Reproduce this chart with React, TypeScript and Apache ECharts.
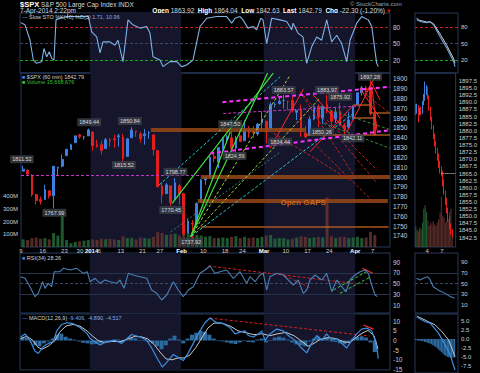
import React, { useEffect, useRef } from 'react';
import * as echarts from 'echarts';

const FONT = "'Liberation Sans', Arial, Helvetica, sans-serif";
const LBL = '#c8cdd4';

// ---------- main panel: daily OHLC (Dec 9, 2013 .. Apr 7, 2014) ----------
const dayOpen = [1806,1807,1802,1782,1777,1777,1786,1781,1809,1811,1822,1828,1835,1843,1841,1842,1846,1833,1833,1829,1838,1839,1841,1841,1821,1840,1847,1844,1842,1845,1843,1827,1791,1783,1791,1777,1791,1783,1743,1753,1752,1774,1797,1800,1821,1815,1828,1839,1840,1829,1842,1837,1848,1846,1844,1855,1857,1849,1874,1875,1878,1877,1878,1866,1869,1845,1843,1859,1872,1860,1874,1867,1859,1867,1853,1851,1859,1874,1886,1891,1891,1864];
const dayHigh = [1811.5,1808,1803,1783,1780,1792,1786,1811,1810,1823,1829,1834,1842,1844,1842,1849.4,1846,1838,1837,1840,1840,1843,1844,1844,1839,1850.8,1847,1846,1849,1847,1843,1827,1795,1794,1791,1798.8,1793,1784,1758,1756,1774,1798,1800,1823,1826,1830,1841,1843,1847.5,1842,1847,1858,1852,1852,1855,1867,1857,1876,1876,1882,1883.6,1878,1882,1868,1874,1852,1862,1873,1874,1873,1884,1867,1871,1876,1855,1866,1873,1886,1893,1893,1897.3,1864];
const dayLow = [1806,1801,1780,1772,1772,1777,1778,1768,1801,1810,1821,1828,1835,1839,1838,1842,1827,1830,1823,1829,1831,1830,1831,1815.5,1821,1840,1841,1835,1833,1839,1822,1790,1773,1783,1770.5,1777,1772,1740,1743,1737.9,1752,1774,1792,1800,1815,1809,1826,1835,1828,1824.6,1836,1837,1840,1840,1842,1847,1834.4,1849,1871,1874,1870,1868,1866,1858,1841,1839.6,1843,1858,1851,1854,1865,1851,1855,1852,1842.1,1850,1859,1874,1883,1883,1863,1842.6];
const dayClose = [1808,1803,1782,1776,1775,1787,1781,1811,1810,1818,1828,1833,1842,1841,1841,1848,1832,1831,1827,1838,1837,1838,1842,1819,1839,1848,1846,1839,1844,1845,1828,1790,1782,1792,1774,1794,1783,1742,1755,1752,1773,1797,1800,1820,1819,1830,1839,1841,1829,1840,1836,1848,1845,1845,1854,1859,1846,1874,1874,1877,1878,1877,1868,1868,1846,1841,1859,1872,1861,1872,1867,1857,1866,1853,1849,1858,1872,1886,1891,1889,1865,1842.8];
const dayVolume = [60,55,70,75,65,70,60,110,90,270,55,30,40,45,50,55,60,55,65,60,65,60,55,85,70,70,60,75,70,65,80,120,110,95,100,105,90,140,110,120,95,90,80,85,70,70,75,70,80,85,70,80,70,75,70,80,90,95,65,70,70,60,65,75,85,80,70,75,80,75,390,85,70,80,80,70,75,80,70,75,120,95];

const dateTickDays = [0,5,10,15.3,18,23,28,32,37,42,47,51,56,61,66,71,77,81];
const dateTickLabels = ['9','16','23','30 {b|2014}','6','13','21','27','{b|Feb}','10','18','24','{b|Mar}','10','17','24','{b|Apr}','7'];
const shadeStart = [16,56];
const shadeEnd = [37,77];

const priceTicks = [1740,1750,1760,1770,1780,1790,1800,1810,1820,1830,1840,1850,1860,1870,1880,1890,1900];
const volTicks = [100,200,300,400];
const stoTicks = [20,50,80];
const rsiTicks = [10,30,50,70,90];
const macdTicks = [-15,-10,-5,0,5,10];

// Slow stochastic (day position, value)
const stoDay = [0.16,1.15,2.3,3.06,3.84,4.99,5.51,6.13,6.73,7.28,7.81,8.27,9.19,10.73,13.03,15.69,16.47,17.62,18.38,19.07,20.68,21.82,22.51,23.66,24.81,25.96,27.57,29.11,29.86,30.55,32.16,32.85,34.46,36.0,37.15,38.3,39.74,41.35,42.89,45.19,47.48,48.63,49.39,50.54,51.23,52.38,53.53,54.38,55.30,55.82,56.67,57.82,59.73,61.27,62.42,62.72,63.86,65.01,65.86,67.01,68.16,69.31,70.46,71.61,72.76,73.9,75.05,75.81,77.35,78.5,80.01,80.8,81.94,82.31];
const stoValue = [88,84,56,20,14,17,41,26,35,23,20,93,96,99,99,99,71,62,33,53,53,47,56,17,93,84,78,81,69,26,20,8,17,17,8,11,20,81,96,99,99,87,96,99,93,78,81,75,96,93,50,96,93,90,75,87,69,62,14,44,62,56,93,53,65,50,17,56,87,99,93,81,14,8];

// RSI(34)
const rsiDay = [0.16,1.15,2.3,3.45,4.2,5.21,5.74,6.5,7.28,7.88,9.19,9.95,11.49,13.03,14.54,15.46,16.08,17.23,18.38,19.53,20.68,22.21,22.97,23.89,24.88,26.03,27.57,29.11,30.25,31.4,32.55,33.7,35.22,36.37,37.51,38.66,39.81,41.35,42.5,43.65,44.8,45.95,47.48,49.0,50.54,52.08,52.84,53.99,55.13,55.89,56.67,57.43,58.97,60.49,61.64,62.79,63.93,65.08,65.86,66.62,67.77,69.31,70.46,71.61,72.76,73.9,74.89,75.81,76.96,78.11,79.26,80.01,80.8,81.55,82.08];
const rsiValue = [63,60,44.4,25.8,32,53.7,41.4,50.7,44.4,72.3,72.3,78.6,75.5,78.6,69.3,72.3,53.7,60,50.7,56.9,53.7,50.7,56.9,41.4,69.3,66.2,63,60,38.3,32.1,19.7,29,53.7,38.3,25.8,38.3,44.4,69.3,75.5,82.9,69.3,72.3,75.5,60,72.3,50.7,63,53.7,66.2,69.3,38.3,63,69.3,66.2,56.9,47.6,56.9,32.1,38.3,56.9,66.2,56.9,69.3,35.1,56.9,44.4,35.1,56.9,66.2,72.3,75.5,69.3,47.6,29,26];

// MACD(12,26,9)
const macdDay = [0.16,1.15,2.3,3.45,4.2,5.35,6.5,7.65,8.43,9.58,10.73,12.24,13.78,15.46,16.08,17.23,18.38,19.92,21.82,23.36,24.12,25.66,27.57,29.11,30.25,31.4,32.69,33.7,35.22,36.37,37.51,38.66,39.81,41.35,42.5,43.65,45.19,46.7,48.24,49.39,50.54,51.69,52.45,53.6,54.74,55.53,56.28,57.43,58.97,60.49,62.03,63.17,64.32,65.86,67.01,68.16,69.31,70.46,71.61,72.76,73.9,75.05,76.2,77.35,78.5,79.65,80.8,81.55,82.08,82.31];
const macdValue = [1.8,3.4,0.1,-5.5,-6.7,-3.1,-1.5,-0.6,5.0,8.3,9.2,8.7,6.7,3.4,1.0,-0.6,-2.3,-0.6,0.1,-1.5,0.1,3.1,1.8,0.1,-3.9,-8.8,-13.7,-11.3,-7.2,-8.8,-10.4,-6.4,-1.5,5.0,9.2,11.6,9.2,8.7,6.7,3.4,4.3,5.0,2.6,1.8,3.4,5.0,0.1,3.4,5.9,5.0,1.8,0.1,-3.1,-6.4,-1.5,2.6,0.1,3.4,0.1,1.0,-1.5,-3.9,0.1,3.4,5.9,6.4,5.0,0.1,-5.5,-9.4];
const signalDay = [0.16,1.61,2.99,4.14,5.05,6.43,8.04,9.19,10.57,12.18,13.78,15.39,16.54,17.92,19.3,21.14,22.98,24.81,26.42,28.03,29.4,30.78,32.16,33.54,34.92,36.3,37.68,39.05,40.43,41.81,43.19,44.57,46.4,48.24,50.08,51.92,53.76,55.59,57.43,59.27,61.11,62.95,64.78,66.16,67.54,68.92,70.76,72.6,74.43,75.81,77.19,78.57,79.95,81.33,82.24];
const signalValue = [1.0,2.2,0,-3.5,-4.5,-3,0,4.5,7.5,8.3,7.4,5,2.5,0,-1,-0.5,-0.6,0.8,2.2,1.8,0.8,-2,-6,-9.5,-10,-9,-9,-7.5,-3.5,1.5,6.5,9,9,7.5,5,4,3,3.5,2.5,3.5,4.2,2.5,-0.5,-3,-1.5,0.5,1.5,1,-0.8,-1,1.5,3.8,5.2,2.5,-4.5];
const histValue = [1.5,1.5,-0.5,-2.5,-3,-1.5,-0.5,1,3,3.5,2,1,0.5,-0.5,-1.2,-1.5,-2,-1.8,-1.5,-0.5,-0.3,0.5,0.5,-0.8,0.5,1.5,1.2,0.3,-0.3,-0.8,-1.5,-3,-4.5,-2.5,1,2.5,0.5,-1.5,1,3,4,5,4.5,3,1,-0.3,-0.5,-1,-1.5,-1.8,-1,-0.3,-0.8,-1,0.5,1,-1,0.3,1.5,2,1.5,0.5,-1,-2,-2.5,-3,-0.5,1,2,1,1.5,-0.5,-0.8,-1.5,-2,-1,1,1.8,2.2,1.5,-1,-6];

// annotation tags on price panel
const tagText = ['1811.52','1767.99','1849.44','1850.84','1815.52','1798.77','1770.45','1737.92','1847.50','1824.59','1834.44','1883.57','1883.97','1875.92','1850.26','1842.11','1897.28'];
const tagDay = [0.2,7.7,15.7,25.1,23.7,35.6,34.6,39.2,48.2,49.2,59.7,60.5,70.5,73.5,69.3,76.4,80.4];
const tagPrice = [1818,1763.6,1855.8,1857.1,1812.2,1805.4,1766.3,1734,1853.8,1821.4,1836,1888.8,1888.8,1881.9,1846.2,1839.5,1902.3];

// drawn trend lines [day1, price1, day2, price2]
const magentaThick = [[46.4,1876.3,85,1892.1],[43.6,1824,85,1847.8]];
const magentaThin = [[46.6,1864.8,78.1,1872.4],[0,1802,41.4,1802]];
const brownBands = [[29.9,1848,65.5,1848],[41.4,1800,85,1800],[40.7,1776,84.5,1776]];
const brownThin = [[41.4,1749.3,84.7,1749.3],[76.6,1874,80.6,1874],[80.4,1866,85,1866],[76.6,1860,81.6,1860],[65.7,1843,85,1843]];
const greenSolid = [[34.8,1773.2,58.1,1906],[39.1,1739,56.8,1906],[39.1,1739,48.2,1846]];
const limeDashed = [[39.1,1739,62,1904],[39.1,1739,68.9,1880.7]];
const cyanDashed = [[31.8,1791.8,59.7,1902.3],[39.3,1739.8,77,1866.3]];
const tealDashed = [[34.5,1744,59.7,1825.5]];
const redDashed = [[65,1883.7,82,1793.6],[70.5,1858.2,82,1807.1],[68.2,1831,81.1,1775],[79.6,1883.7,85,1864.9],[58.2,1844.6,75.8,1797],[64.3,1887,76.6,1802]];
const redSolid = [[67.3,1883.7,75.1,1846.2],[75.1,1846.2,80.4,1892.1],[78.1,1890.5,82.7,1859.9],[79.5,1886.7,81.8,1903],[80,1903,82.7,1878.6],[80.8,1892.1,82,1847.9],[57.4,1829.3,65.1,1890],[66.6,1825.8,76.6,1873.5]];
const darkGreenDashed = [[69.7,1854.8,85,1829.3],[68.9,1871.7,85,1848.4]];
const gapText = { day: 65, price: 1774.5, text: 'Open GAPS' };

const rsiRedDashed = [[43.26,82.9,76.5,50.7],[59.7,69.3,67.0,41.4]];
const rsiRedSolid = [[78.7,78.6,81.0,69.3]];
const rsiGreenDashed = [[72.0,38.3,79.6,72.3],[73.5,32,80.6,63]];
const macdRedDashed = [[43.6,11.6,80.4,2.3]];
const macdRedSolid = [[78.9,8.0,81.2,5.9]];

// ---------- right zoom panel ----------
const rOpen = [1888,1886.5,1888.5,1886,1887.5,1886.5,1889.5,1891.5,1894,1895,1892,1888,1884.5,1881.5,1878.5,1876,1873,1871,1868.5,1866.5,1865,1862,1858.5,1855.5,1852,1849,1846.5,1844];
const rClose = [1886.5,1888.5,1886,1887.5,1886.5,1889.5,1891.5,1894,1895,1892,1888,1884.5,1881.5,1878.5,1876,1873,1871,1868.5,1866.5,1865,1862,1858.5,1855.5,1852,1849,1846.5,1844,1842.8];
const rLow = [1885.5,1886,1883,1885.5,1885.5,1886,1889,1890.5,1892.5,1891,1887,1883.5,1880.5,1877,1874.5,1872,1869.5,1867,1865,1864,1860.5,1857.5,1854,1851,1848,1845.5,1843.5,1842.6];
const rHigh = [1889.5,1889.5,1889,1888,1888.5,1890.5,1893,1897.3,1896,1895.5,1892.5,1888.5,1885,1882,1879,1876.5,1874,1872,1869.5,1867.5,1866,1863,1859,1856.5,1853,1850,1847.5,1845.5];
const rVolume = [12,10,9,11,10,14,22,24,20,15,12,14,13,15,13,12,14,16,20,29,18,17,14,15,16,20,22,10];
const rHist = [-0.3,-0.4,-0.5,-0.5,-0.6,-0.6,-0.8,-0.9,-1.0,-1.2,-1.3,-1.5,-1.8,-2.0,-2.3,-2.6,-3.0,-3.3,-3.7,-4.1,-4.5,-4.8,-5.0,-5.1,-5.2,-5.2,-5.2,-5.2];
const rStoDay = [1.2,3.5,8.2,10.6,12.9,17.6,22.3,27,27.9];
const rStoK = [96,90,88,90,84,62,41,17,8];
const rStoD = [93,92,89,89,86,67,46,22,14];
const rRsiDay = [1.2,3.5,5.8,8.9,10.6,12.9,16.4,21.1,24.6,27.7];
const rRsi = [60,57,60,63,57,44,38,32,26,23];
const rMacdDay = [1.2,7,10.6,16.4,21.1,24.6,27.9];
const rMacd = [6.2,4.8,4.4,1.6,-1.7,-4.5,-8.7];
const rSignalDay = [1.2,9.4,14.1,18.8,23.5,27.9];
const rSignal = [6.4,4.8,3.9,2.0,-0.3,-5];
const rDateDays = [8.9,19.9];
const rDateLabels = ['4','7'];
const rPrevClose = 1865;
const rPriceTicks = [1842.5,1845,1847.5,1850,1852.5,1855,1857.5,1860,1862.5,1865,1867.5,1870,1872.5,1875,1877.5,1880,1882.5,1885,1887.5,1890,1892.5,1895,1897.5];
const rMacdTicks = [-7.5,-5,-2.5,0,2.5,5];

const MAIN_N = 85;
const RIGHT_N = 30;

const zip = (xs: number[], ys: number[]) => xs.map((x, i) => [x, ys[i]]);
const seg = (arr: number[][], style: any) =>
  arr.map(([x1, y1, x2, y2]) => [{ coord: [x1, y1], lineStyle: style }, { coord: [x2, y2] }]);
const ml = (data: any[]) => ({ silent: true, symbol: ['none', 'none'], label: { show: false }, emphasis: { disabled: true }, animation: false, data });
const shade = {
  silent: true,
  itemStyle: { color: '#15152c' },
  data: shadeStart.map((s, i) => [{ xAxis: s }, { xAxis: shadeEnd[i] }]),
};
const dummy = (xi: number, yi: number, y0: number, extra: any) => ({
  type: 'line', xAxisIndex: xi, yAxisIndex: yi, data: [[0, y0]], showSymbol: false,
  lineStyle: { opacity: 0 }, silent: true, z: 1, ...extra,
});

const yAx = (gi: number, min: number, max: number, ticks: number[] | null, fmt?: (v: number) => string, pos = 'right', size = 6.5) => ({
  type: 'value', gridIndex: gi, min, max, position: pos,
  axisLine: { show: false }, axisTick: { show: false }, splitLine: { show: false },
  axisLabel: ticks
    ? { show: true, customValues: ticks, formatter: fmt ?? ((v: number) => String(v)), color: LBL, fontSize: size, fontFamily: FONT, margin: 3 }
    : { show: false },
});
const hidX = (gi: number, max: number) => ({ type: 'value', gridIndex: gi, min: 0, max, show: false });

function buildOption(): any {
  const mainCats = Array.from({ length: MAIN_N }, (_, i) => 'd' + i);
  const rightCats = Array.from({ length: RIGHT_N }, (_, i) => 'r' + i);
  const gridStyle = { show: true, borderColor: '#26385a', borderWidth: 1, backgroundColor: 'transparent' };
  const grids = [
    { left: 20, top: 13, width: 370, height: 60 },
    { left: 20, top: 73, width: 370, height: 174 },
    { left: 20, top: 253, width: 370, height: 60 },
    { left: 20, top: 314, width: 370, height: 59 },
    { left: 415, top: 13, width: 43, height: 60 },
    { left: 415, top: 73, width: 43, height: 174 },
    { left: 415, top: 253, width: 43, height: 60 },
    { left: 415, top: 314, width: 43, height: 59 },
  ].map((g) => ({ ...g, ...gridStyle }));

  const stoLines = [
    { yAxis: 80, lineStyle: { color: '#c81e1e', type: [3, 2], width: 1 } },
    { yAxis: 50, lineStyle: { color: '#394763', type: [3, 2], width: 1 } },
    { yAxis: 20, lineStyle: { color: '#1ea01e', type: [3, 2], width: 1 } },
  ];
  const rsiLines = [
    { yAxis: 70, lineStyle: { color: '#26324a', type: 'solid', width: 1 } },
    { yAxis: 50, lineStyle: { color: '#394763', type: [3, 2], width: 1 } },
    { yAxis: 30, lineStyle: { color: '#26324a', type: 'solid', width: 1 } },
  ];

  const volUp = 'rgba(38,110,58,0.8)';
  const volDown = 'rgba(105,52,48,0.8)';
  const candleStyle = { color: '#3f7fe0', color0: '#e21e1e', borderColor: '#3f7fe0', borderColor0: '#e21e1e', borderWidth: 1 };

  const priceMarks = [
    ...seg(brownBands, { color: 'rgba(150,72,22,0.85)', width: 4, type: 'solid' }),
    ...seg(brownThin, { color: 'rgba(185,95,30,0.9)', width: 1.5, type: 'solid' }),
    ...seg(tealDashed, { color: '#2a7f7f', width: 1, type: [2, 2] }),
    ...seg(limeDashed, { color: '#a6d33a', width: 1, type: [3, 2] }),
    ...seg(cyanDashed, { color: '#27c9d6', width: 1, type: [3, 2] }),
    ...seg(greenSolid, { color: '#3ee03e', width: 1.2, type: 'solid' }),
    ...seg(darkGreenDashed, { color: '#3a8a3a', width: 1, type: [3, 2] }),
    ...seg(redDashed, { color: '#c42020', width: 1, type: [3, 2] }),
    ...seg(redSolid, { color: '#ff2a2a', width: 1, type: 'solid' }),
    ...seg(magentaThin, { color: '#cc33cc', width: 1, type: [3, 2] }),
    ...seg(magentaThick, { color: '#ff33ff', width: 2, type: [4, 3] }),
  ];

  const graphic = [
    { type: 'text', left: 20, top: 0, style: { text: '{b|$SPX} S&P 500 Large Cap Index INDX', fill: '#d6d9de', fontSize: 6.5, fontFamily: FONT, rich: { b: { fontWeight: 'bold', fontSize: 7.5, fill: '#ffffff', fontFamily: FONT } } } },
    { type: 'text', left: 20, top: 7, style: { text: '7-Apr-2014 2:22pm', fill: '#d6d9de', fontSize: 6.5, fontFamily: FONT } },
    { type: 'text', left: 350, top: 0.5, style: { text: '© StockCharts.com', fill: '#9aa0a8', fontSize: 6, fontFamily: FONT } },
    { type: 'text', right: 95, top: 7, style: { text: '{b|Open} 1863.92  {b|High} 1864.04  {b|Low} 1842.63  {b|Last} 1842.79  {b|Chg} -22.30 (-1.20%)', fill: '#d6d9de', fontSize: 6.5, fontFamily: FONT, rich: { b: { fontWeight: 'bold', fill: '#ffffff', fontSize: 6.5, fontFamily: FONT } } } },
    { type: 'text', left: 386, top: 7.5, style: { text: '▼', fill: '#e02020', fontSize: 5.5, fontFamily: FONT } },
    { type: 'text', left: 22, top: 13.5, z: 20, style: { text: '{l|—} Slow STO %K(40) %D(3) {v|1.71, 10.96}', fill: '#cfd3da', fontSize: 5.5, fontFamily: FONT, rich: { l: { fill: '#7fb2e5', fontSize: 5.5 }, v: { fill: '#7fb2e5', fontSize: 5.5 } } } },
    { type: 'text', left: 22, top: 73.5, z: 20, style: { text: '{s|■} $SPX (60 min) 1842.79', fill: '#cfd3da', fontSize: 5.5, fontFamily: FONT, rich: { s: { fill: '#3f7fe0', fontSize: 5.5 } } } },
    { type: 'text', left: 22, top: 78.5, z: 20, style: { text: '■ Volume 15,668,676', fill: '#36c436', fontSize: 5.5, fontFamily: FONT } },
    { type: 'text', left: 22, top: 255, z: 20, style: { text: '{s|■} RSI(34) 28.26', fill: '#cfd3da', fontSize: 5.5, fontFamily: FONT, rich: { s: { fill: '#4b7fb5', fontSize: 5.5 } } } },
    { type: 'text', left: 22, top: 315, z: 20, style: { text: '{l|—} MACD(12,26,9) {v|-9.406, -4.890, -4.517}', fill: '#cfd3da', fontSize: 5.5, fontFamily: FONT, rich: { l: { fill: '#3c8ee0', fontSize: 5.5 }, v: { fill: '#7fb2e5', fontSize: 5.5 } } } },
  ];

  return {
    animation: false,
    backgroundColor: '#000000',
    textStyle: { fontFamily: FONT },
    grid: grids,
    graphic,
    xAxis: [
      hidX(0, MAIN_N),
      { type: 'category', gridIndex: 1, data: mainCats, show: false, position: 'top', boundaryGap: true },
      {
        type: 'value', gridIndex: 1, min: 0, max: MAIN_N, position: 'bottom',
        axisLine: { show: false }, axisTick: { show: false }, splitLine: { show: false },
        axisLabel: {
          customValues: dateTickDays, margin: 1, color: LBL, fontSize: 6, fontFamily: FONT,
          formatter: (v: number) => dateTickLabels[dateTickDays.indexOf(v)] ?? '',
          rich: { b: { fontWeight: 'bold', color: '#ffffff', fontSize: 6, fontFamily: FONT } },
        },
      },
      hidX(2, MAIN_N),
      hidX(3, MAIN_N),
      hidX(4, RIGHT_N),
      { type: 'category', gridIndex: 5, data: rightCats, show: false, position: 'top', boundaryGap: true },
      {
        type: 'value', gridIndex: 5, min: 0, max: RIGHT_N, position: 'bottom',
        axisLine: { show: false }, axisTick: { show: false }, splitLine: { show: false },
        axisLabel: {
          customValues: rDateDays, margin: 1, color: LBL, fontSize: 6, fontFamily: FONT,
          formatter: (v: number) => rDateLabels[rDateDays.indexOf(v)] ?? '',
        },
      },
      hidX(6, RIGHT_N),
      hidX(7, RIGHT_N),
    ],
    yAxis: [
      yAx(0, -3.6, 105.5, stoTicks),
      yAx(1, 1728.6, 1906.1, priceTicks),
      yAx(1, 0, 1370, volTicks, (v: number) => v + 'M', 'left', 6),
      yAx(2, -4.5, 107.1, rsiTicks),
      yAx(3, -15.2, 13.7, macdTicks),
      yAx(4, -3.6, 105.5, stoTicks, undefined, 'right', 6),
      yAx(5, 1839.2, 1900.3, rPriceTicks, (v: number) => v.toFixed(1), 'right', 6),
      yAx(5, 0, 100, null, undefined, 'left'),
      yAx(6, -4.5, 107.1, rsiTicks, undefined, 'right', 6),
      yAx(7, -9.54, 6.96, rMacdTicks, (v: number) => v.toFixed(1), 'right', 6),
    ],
    series: [
      // ----- STO main -----
      dummy(0, 0, 50, { markArea: shade }),
      {
        type: 'line', xAxisIndex: 0, yAxisIndex: 0, data: zip(stoDay, stoValue), showSymbol: false, z: 6,
        lineStyle: { color: '#7fb2e5', width: 1.1 }, markLine: ml(stoLines),
      },
      // ----- price main -----
      dummy(2, 1, 1800, { markArea: shade, markLine: ml(priceMarks) }),
      {
        type: 'bar', xAxisIndex: 1, yAxisIndex: 2, barWidth: 3, z: 2,
        data: dayVolume.map((v, i) => ({ value: v, itemStyle: { color: dayClose[i] >= dayOpen[i] ? volUp : volDown } })),
      },
      {
        type: 'candlestick', xAxisIndex: 1, yAxisIndex: 1, barMaxWidth: 3, z: 3,
        data: dayOpen.map((o, i) => [o, dayClose[i], dayLow[i], dayHigh[i]]),
        itemStyle: candleStyle,
      },
      {
        type: 'scatter', xAxisIndex: 2, yAxisIndex: 1, symbolSize: 1, z: 12, silent: true,
        itemStyle: { color: 'transparent' },
        data: tagText.map((t, i) => ({ value: [tagDay[i], tagPrice[i]], label: { formatter: t } })),
        label: { show: true, position: 'inside', color: '#ffffff', fontSize: 5.5, fontFamily: FONT, backgroundColor: '#3b4048', padding: [1, 2], borderRadius: 1 },
      },
      {
        type: 'scatter', xAxisIndex: 2, yAxisIndex: 1, symbolSize: 1, z: 12, silent: true,
        itemStyle: { color: 'transparent' },
        data: [{ value: [gapText.day, gapText.price], label: { formatter: gapText.text } }],
        label: { show: true, position: 'inside', color: '#e8761e', fontSize: 8, fontWeight: 'bold', fontFamily: FONT },
      },
      // ----- RSI main -----
      dummy(3, 3, 50, { markArea: shade }),
      {
        type: 'line', xAxisIndex: 3, yAxisIndex: 3, data: zip(rsiDay, rsiValue), showSymbol: false, z: 6,
        lineStyle: { color: '#4b7fb5', width: 1.1 },
        markLine: ml([
          ...rsiLines,
          ...seg(rsiRedDashed, { color: '#d42020', width: 1, type: [3, 2] }),
          ...seg(rsiRedSolid, { color: '#ff2a2a', width: 1.2, type: 'solid' }),
          ...seg(rsiGreenDashed, { color: '#3ecc3e', width: 1, type: [3, 2] }),
        ]),
      },
      // ----- MACD main -----
      dummy(4, 4, 0, { markArea: shade }),
      {
        type: 'bar', xAxisIndex: 4, yAxisIndex: 4, barWidth: 4, z: 3,
        data: histValue.map((v, i) => [i + 0.5, v]), itemStyle: { color: '#2c6aa0' },
      },
      {
        type: 'line', xAxisIndex: 4, yAxisIndex: 4, data: zip(signalDay, signalValue), showSymbol: false, z: 5,
        lineStyle: { color: '#c8c8c8', width: 1 },
      },
      {
        type: 'line', xAxisIndex: 4, yAxisIndex: 4, data: zip(macdDay, macdValue), showSymbol: false, z: 6,
        lineStyle: { color: '#3c8ee0', width: 1.2 },
        markLine: ml([
          ...seg(macdRedDashed, { color: '#d42020', width: 1, type: [3, 2] }),
          ...seg(macdRedSolid, { color: '#ff2a2a', width: 1.2, type: 'solid' }),
        ]),
      },
      // ----- right panel -----
      {
        type: 'line', xAxisIndex: 5, yAxisIndex: 5, data: zip(rStoDay, rStoD), showSymbol: false, z: 5,
        lineStyle: { color: '#d0d0d0', width: 1 }, markLine: ml(stoLines),
      },
      {
        type: 'line', xAxisIndex: 5, yAxisIndex: 5, data: zip(rStoDay, rStoK), showSymbol: false, z: 6,
        lineStyle: { color: '#6aa6dc', width: 1.1 },
      },
      {
        type: 'bar', xAxisIndex: 6, yAxisIndex: 7, barWidth: 1.2, z: 2,
        data: rVolume.map((v, i) => ({ value: v, itemStyle: { color: rClose[i] >= rOpen[i] ? volUp : volDown } })),
      },
      {
        type: 'candlestick', xAxisIndex: 6, yAxisIndex: 6, barMaxWidth: 1.4, z: 3,
        data: rOpen.map((o, i) => [o, rClose[i], rLow[i], rHigh[i]]),
        itemStyle: candleStyle,
      },
      dummy(7, 6, rPrevClose, {
        markLine: ml([[{ coord: [19.5, rPrevClose], lineStyle: { color: '#dddddd', type: [1, 1], width: 1 } }, { coord: [RIGHT_N, rPrevClose] }]]),
      }),
      {
        type: 'line', xAxisIndex: 8, yAxisIndex: 8, data: zip(rRsiDay, rRsi), showSymbol: false, z: 6,
        lineStyle: { color: '#4b7fb5', width: 1.1 }, markLine: ml(rsiLines),
      },
      {
        type: 'bar', xAxisIndex: 9, yAxisIndex: 9, barWidth: 1.4, z: 3,
        data: rHist.map((v, i) => [i + 0.5, v]), itemStyle: { color: '#2c6aa0' },
      },
      {
        type: 'line', xAxisIndex: 9, yAxisIndex: 9, data: zip(rSignalDay, rSignal), showSymbol: false, z: 5,
        lineStyle: { color: '#c8c8c8', width: 1 },
      },
      {
        type: 'line', xAxisIndex: 9, yAxisIndex: 9, data: zip(rMacdDay, rMacd), showSymbol: false, z: 6,
        lineStyle: { color: '#3c8ee0', width: 1.2 },
      },
    ],
  };
}

export default function App() {
  const ref = useRef<HTMLDivElement>(null);
  useEffect(() => {
    document.body.style.margin = '0';
    document.body.style.background = '#000';
    const chart = echarts.init(ref.current as HTMLDivElement, null, { renderer: 'svg' });
    chart.setOption(buildOption());
    return () => chart.dispose();
  }, []);
  return <div ref={ref} style={{ position: 'fixed', left: 0, top: 0, width: 480, height: 373, background: '#000' }} />;
}
